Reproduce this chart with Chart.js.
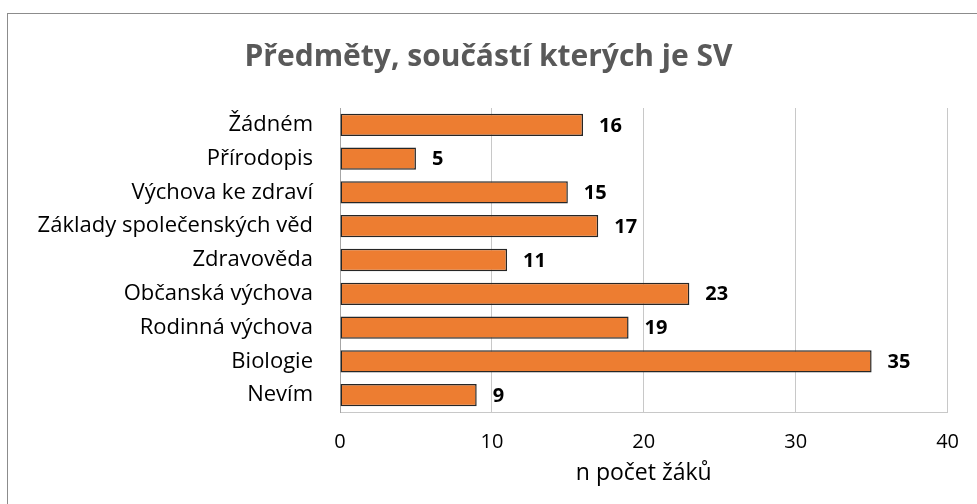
<!DOCTYPE html>
<html>
<head>
<meta charset="utf-8">
<script src="https://cdn.jsdelivr.net/npm/chart.js@4.4.1/dist/chart.umd.min.js"></script>
<style>
  html, body { margin: 0; padding: 0; background: #fff; overflow: hidden; }
  #wrap { position: relative; width: 977px; height: 504px; overflow: hidden; }
  #frame { position: absolute; left: 7px; top: 13px; width: 1000px; height: 600px; border: 1px solid #8c8c8c; box-sizing: border-box; }
  #chart { position: absolute; left: 0; top: 0; }
</style>
</head>
<body>
<div id="wrap">
  <div id="frame"></div>
  <canvas id="chart" width="977" height="504"></canvas>
</div>
<script>
const categories = ['Žádném', 'Přírodopis', 'Výchova ke zdraví', 'Základy společenských věd',
  'Zdravověda', 'Občanská výchova', 'Rodinná výchova', 'Biologie', 'Nevím']
const values = [16, 5, 15, 17, 11, 23, 19, 35, 9]
const xTicks = [0, 10, 20, 30, 40]

const FONT = '"Open Sans", sans-serif'

// bold value labels at the end of each bar
const valueLabels = {
  id: 'valueLabels',
  afterDatasetsDraw(chart) {
    const ctx = chart.ctx
    const meta = chart.getDatasetMeta(0)
    ctx.save()
    ctx.font = 'bold 20px ' + FONT
    ctx.fillStyle = '#000'
    ctx.textAlign = 'left'
    ctx.textBaseline = 'middle'
    meta.data.forEach((bar, i) => {
      ctx.fillText(String(values[i]), bar.x + 16, bar.y + 1)
    })
    ctx.restore()
  }
}

new Chart(document.getElementById('chart'), {
  type: 'bar',
  data: {
    labels: categories,
    datasets: [{
      data: values,
      backgroundColor: '#ED7D31',
      borderColor: '#262626',
      borderWidth: 1.5,
      borderSkipped: false,
      barPercentage: 0.66,
      categoryPercentage: 1
    }]
  },
  options: {
    indexAxis: 'y',
    responsive: false,
    animation: false,
    layout: { padding: { left: 0, right: 0, top: 0, bottom: 0 } },
    plugins: {
      legend: { display: false },
      tooltip: { enabled: false },
      title: {
        display: true,
        text: 'Předměty, součástí kterých je SV',
        color: '#595959',
        font: { family: FONT, size: 30, weight: 'bold', lineHeight: 1.2 },
        padding: { top: 39, bottom: 33 }
      }
    },
    scales: {
      x: {
        min: 0,
        max: 40,
        afterBuildTicks: (scale) => { scale.ticks = xTicks.map(v => ({ value: v })) },
        afterFit: (scale) => { scale.height = 92 },
        grid: { color: '#c8c8c8', lineWidth: 1, drawTicks: false },
        border: { display: true, color: '#c8c8c8' },
        ticks: {
          color: '#000',
          padding: 18,
          maxRotation: 0,
          font: { family: FONT, size: 20 }
        },
        title: {
          display: true,
          text: 'n počet žáků',
          color: '#000',
          font: { family: FONT, size: 23 },
          padding: { top: 0, bottom: 17 }
        }
      },
      y: {
        afterFit: (scale) => { scale.width = 340 },
        grid: { display: false, drawTicks: false },
        border: { display: true, color: '#a6a6a6' },
        ticks: {
          color: '#000',
          padding: 27,
          font: { family: FONT, size: 22 }
        }
      }
    }
  },
  plugins: [valueLabels]
})
</script>
</body>
</html>
